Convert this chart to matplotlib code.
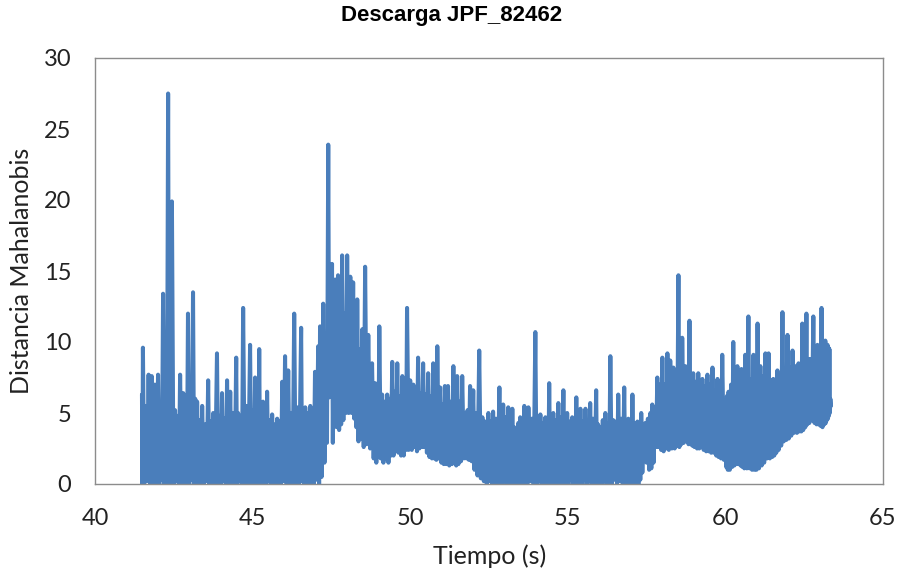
import numpy as np
import matplotlib
matplotlib.use("Agg")
import matplotlib.pyplot as plt

# Tiempo (s) de cada pico, valor del pico y valor del valle que le sigue
tiempo = [41.49, 41.52, 41.60, 41.70, 41.80, 41.90, 42.00, 42.08, 42.16, 42.24,
          42.32, 42.38, 42.44, 42.54, 42.62, 42.70, 42.80, 42.88, 42.95, 43.03,
          43.11, 43.18, 43.24, 43.32, 43.40, 43.50, 43.59, 43.67, 43.75, 43.87,
          43.95, 44.03, 44.11, 44.19, 44.29, 44.38, 44.48, 44.54, 44.62, 44.70,
          44.80, 44.92, 45.00, 45.08, 45.15, 45.21, 45.27, 45.33, 45.40, 45.46,
          45.54, 45.62, 45.70, 45.78, 45.86, 45.94, 46.03, 46.13, 46.22, 46.32,
          46.41, 46.54, 46.60, 46.67, 46.75, 46.83, 46.90, 46.98, 47.08, 47.14,
          47.24, 47.32, 47.40, 47.46, 47.52, 47.57, 47.62, 47.71, 47.78, 47.84,
          47.92, 48.00, 48.10, 48.19, 48.26, 48.32, 48.40, 48.48, 48.57, 48.67,
          48.79, 48.89, 48.96, 49.02, 49.11, 49.19, 49.27, 49.35, 49.43, 49.51,
          49.59, 49.67, 49.75, 49.84, 49.90, 50.00, 50.10, 50.18, 50.25, 50.33,
          50.41, 50.49, 50.57, 50.65, 50.73, 50.80, 50.86, 50.95, 51.03, 51.10,
          51.20, 51.28, 51.37, 51.43, 51.49, 51.57, 51.65, 51.75, 51.82, 51.90,
          52.00, 52.08, 52.19, 52.29, 52.38, 52.48, 52.56, 52.63, 52.72, 52.83,
          52.90, 52.95, 53.03, 53.11, 53.18, 53.24, 53.30, 53.37, 53.43, 53.49,
          53.56, 53.62, 53.68, 53.75, 53.86, 53.97, 54.05, 54.13, 54.21, 54.29,
          54.35, 54.41, 54.48, 54.54, 54.62, 54.70, 54.78, 54.86, 54.92, 54.98,
          55.06, 55.14, 55.20, 55.27, 55.33, 55.40, 55.48, 55.56, 55.63, 55.71,
          55.80, 55.90, 55.96, 56.03, 56.11, 56.19, 56.27, 56.35, 56.44, 56.52,
          56.60, 56.70, 56.79, 56.86, 56.92, 56.98, 57.05, 57.13, 57.21, 57.27,
          57.33, 57.40, 57.46, 57.54, 57.62, 57.68, 57.76, 57.84, 57.92, 58.00,
          58.08, 58.16, 58.25, 58.35, 58.43, 58.51, 58.57, 58.63, 58.73, 58.80,
          58.86, 58.92, 58.98, 59.06, 59.14, 59.20, 59.27, 59.35, 59.43, 59.51,
          59.59, 59.67, 59.75, 59.82, 59.90, 60.00, 60.05, 60.10, 60.18, 60.25,
          60.32, 60.38, 60.45, 60.51, 60.57, 60.63, 60.73, 60.80, 60.89, 60.95,
          61.02, 61.11, 61.19, 61.27, 61.37, 61.45, 61.52, 61.58, 61.65, 61.73,
          61.81, 61.89, 61.97, 62.05, 62.13, 62.22, 62.32, 62.38, 62.44, 62.50,
          62.57, 62.63, 62.70, 62.79, 62.86, 62.92, 62.98, 63.05, 63.11, 63.17,
          63.20, 63.24, 63.27, 63.30, 63.33]

pico = [6.3, 9.6, 5.5, 7.7, 7.6, 7.0, 7.7, 5.0, 13.4, 5.5,
        27.5, 6.0, 19.9, 5.2, 4.8, 7.7, 6.4, 5.0, 12.0, 5.5,
        13.5, 6.0, 5.8, 4.5, 5.5, 4.2, 7.3, 4.4, 5.0, 9.2,
        4.8, 6.4, 4.6, 7.3, 6.5, 5.0, 8.9, 5.0, 4.8, 12.4,
        5.5, 9.8, 5.2, 7.5, 5.0, 9.5, 5.0, 5.8, 4.6, 6.5,
        4.5, 4.9, 4.2, 4.6, 4.4, 7.2, 9.0, 8.0, 5.0, 12.0,
        5.4, 11.0, 5.0, 5.4, 5.0, 5.5, 5.2, 7.9, 9.7, 11.1,
        12.7, 9.0, 23.9, 10.0, 15.5, 11.0, 14.4, 14.7, 11.5, 16.1,
        12.0, 16.1, 14.6, 14.2, 10.5, 13.0, 9.5, 10.9, 15.3, 10.5,
        8.5, 7.1, 6.5, 11.1, 6.3, 5.8, 6.3, 6.0, 8.6, 6.5,
        8.5, 6.2, 7.6, 6.5, 12.4, 7.3, 7.0, 6.0, 8.9, 6.4,
        8.5, 6.3, 7.8, 6.2, 8.5, 6.0, 9.7, 6.8, 5.6, 6.9,
        6.9, 5.8, 8.3, 6.0, 7.6, 5.8, 7.6, 5.0, 5.2, 6.9,
        6.6, 5.0, 9.4, 4.7, 4.4, 5.0, 4.4, 5.1, 4.6, 6.8,
        5.0, 5.6, 4.7, 5.4, 4.5, 5.3, 4.0, 3.3, 4.3, 4.7,
        4.4, 5.5, 4.5, 5.4, 4.6, 10.7, 4.5, 4.9, 4.3, 4.7,
        4.4, 7.1, 4.6, 5.0, 4.5, 5.7, 4.7, 6.6, 4.8, 5.0,
        4.4, 4.7, 4.5, 6.1, 4.6, 5.3, 4.4, 5.3, 4.5, 5.7,
        4.6, 6.6, 4.2, 4.0, 4.5, 5.0, 4.3, 9.0, 4.5, 4.4,
        6.3, 4.6, 6.8, 4.4, 4.6, 4.5, 6.3, 4.3, 4.4, 3.8,
        5.0, 3.9, 4.3, 4.6, 5.0, 5.6, 5.4, 7.5, 7.0, 8.9,
        7.0, 9.2, 8.7, 8.2, 7.6, 14.7, 8.0, 10.3, 8.3, 7.7,
        11.5, 7.6, 7.8, 7.2, 7.8, 7.0, 7.4, 6.9, 7.7, 7.0,
        8.2, 6.6, 7.4, 6.5, 9.1, 5.8, 6.2, 6.5, 7.0, 10.0,
        7.2, 8.3, 7.0, 8.1, 7.2, 9.1, 11.8, 7.4, 9.1, 7.5,
        11.3, 8.3, 7.6, 9.2, 9.2, 7.3, 7.4, 7.0, 8.0, 7.5,
        12.1, 8.0, 10.5, 8.2, 9.4, 8.3, 8.5, 8.2, 11.3, 8.6,
        12.0, 8.8, 8.8, 11.8, 8.7, 9.8, 8.8, 12.4, 9.0, 10.1,
        9.2, 9.8, 9.6, 9.5, 6.0]

valle = [0.0, 0.0, 0.2, 0.0, 0.1, 0.0, 0.0, 0.3, 0.0, 0.0,
         0.1, 0.0, 0.0, 0.2, 0.0, 0.0, 0.1, 0.0, 0.0, 0.3,
         0.0, 0.0, 0.1, 0.0, 0.0, 0.2, 0.0, 0.0, 0.1, 0.0,
         0.0, 0.2, 0.0, 0.0, 0.1, 0.0, 0.0, 0.2, 0.0, 0.0,
         0.1, 0.0, 0.0, 0.3, 0.0, 0.0, 0.1, 0.0, 0.0, 0.2,
         0.0, 0.0, 0.1, 0.0, 0.0, 0.2, 0.0, 0.0, 0.1, 0.0,
         0.0, 0.2, 0.0, 0.0, 0.1, 0.0, 0.0, 0.3, 0.0, 0.5,
         1.5, 2.9, 6.1, 6.2, 2.9, 5.0, 4.0, 3.8, 4.2, 4.5,
         5.0, 5.0, 5.0, 4.6, 4.0, 3.0, 3.2, 2.6, 2.8, 2.5,
         1.8, 1.5, 2.0, 1.8, 1.5, 1.8, 1.5, 2.0, 2.0, 2.3,
         2.2, 2.0, 2.0, 2.4, 2.4, 2.4, 2.6, 2.3, 2.5, 2.6,
         2.6, 2.2, 1.9, 1.8, 1.8, 1.7, 1.8, 1.5, 1.4, 1.4,
         1.3, 1.4, 1.5, 1.3, 1.4, 1.6, 1.8, 1.8, 1.7, 1.6,
         1.0, 0.6, 0.4, 0.2, 0.0, 0.2, 0.0, 0.1, 0.0, 0.3,
         0.0, 0.2, 0.0, 0.1, 0.0, 0.3, 0.0, 0.2, 0.0, 0.1,
         0.0, 0.3, 0.0, 0.2, 0.0, 0.0, 0.2, 0.0, 0.1, 0.0,
         0.3, 0.0, 0.2, 0.0, 0.1, 0.0, 0.3, 0.0, 0.2, 0.0,
         0.3, 0.0, 0.2, 0.0, 0.1, 0.0, 0.3, 0.0, 0.2, 0.0,
         0.1, 0.0, 0.3, 0.0, 0.2, 0.0, 0.1, 0.0, 0.3, 0.0,
         0.2, 0.0, 0.1, 0.0, 0.2, 0.0, 0.1, 0.0, 0.0, 0.3,
         0.8, 1.9, 1.5, 1.0, 1.1, 1.5, 2.6, 2.6, 2.4, 2.3,
         2.5, 2.4, 2.5, 2.5, 2.7, 2.6, 2.8, 2.9, 3.0, 2.8,
         2.8, 2.7, 2.6, 2.5, 2.5, 2.6, 2.4, 2.3, 2.3, 2.2,
         2.2, 2.0, 1.9, 1.8, 1.7, 1.2, 1.0, 1.0, 1.2, 1.3,
         1.4, 1.4, 1.3, 1.2, 1.1, 1.1, 1.1, 1.0, 1.0, 1.0,
         1.1, 1.3, 1.5, 1.8, 1.8, 1.9, 2.0, 2.2, 2.4, 2.7,
         3.0, 3.1, 3.2, 3.4, 3.6, 3.6, 3.7, 3.7, 3.8, 4.0,
         4.2, 4.3, 4.5, 4.3, 4.2, 4.2, 4.1, 4.0, 4.2, 4.3,
         4.5, 4.6, 4.8, 5.0, 5.5]

xticks = [40, 45, 50, 55, 60, 65]
yticks = [0, 5, 10, 15, 20, 25, 30]

t = np.array(tiempo)
t_valle = np.append((t[:-1] + t[1:]) / 2, t[-1] + 0.02)
x = np.empty(2 * len(t))
y = np.empty(2 * len(t))
x[0::2] = t
x[1::2] = t_valle
y[0::2] = pico
y[1::2] = valle

W, H = 904, 578
fig = plt.figure(figsize=(W / 100, H / 100), dpi=100)
ax = fig.add_axes([95 / W, 1 - 484 / H, (883 - 95) / W, (484 - 58) / H])
ax.plot(x, y, color="#4A7EBB", lw=2.9, solid_joinstyle="round", solid_capstyle="round")

ax.set_xlim(40, 65)
ax.set_ylim(0, 30)
ax.set_xticks(xticks)
ax.set_yticks(yticks)
fam = ["Lato", "DejaVu Sans"]
ax.set_xticklabels([str(v) for v in xticks], family=fam, size=17)
ax.set_yticklabels([str(v) for v in yticks], family=fam, size=17)
ax.tick_params(axis="both", length=0, colors="#222222")
ax.tick_params(axis="x", pad=17)
ax.tick_params(axis="y", pad=17)
for s in ax.spines.values():
    s.set_color("#8c8c8c")
    s.set_linewidth(1.0)

fig.text(490 / W, 1 - 556 / H, "Tiempo (s)", family=fam, size=18, color="#222222",
         ha="center", va="center")
fig.text(22 / W, 1 - 271 / H, "Distancia Mahalanobis", family=fam, size=18, color="#222222",
         ha="center", va="center", rotation=90)
fig.text(452 / W, 1 - 15 / H, "Descarga JPF_82462", ha="center", va="center",
         family=["Liberation Sans", "DejaVu Sans"], weight="bold", size=16)

fig.savefig("out.png", dpi=100)
